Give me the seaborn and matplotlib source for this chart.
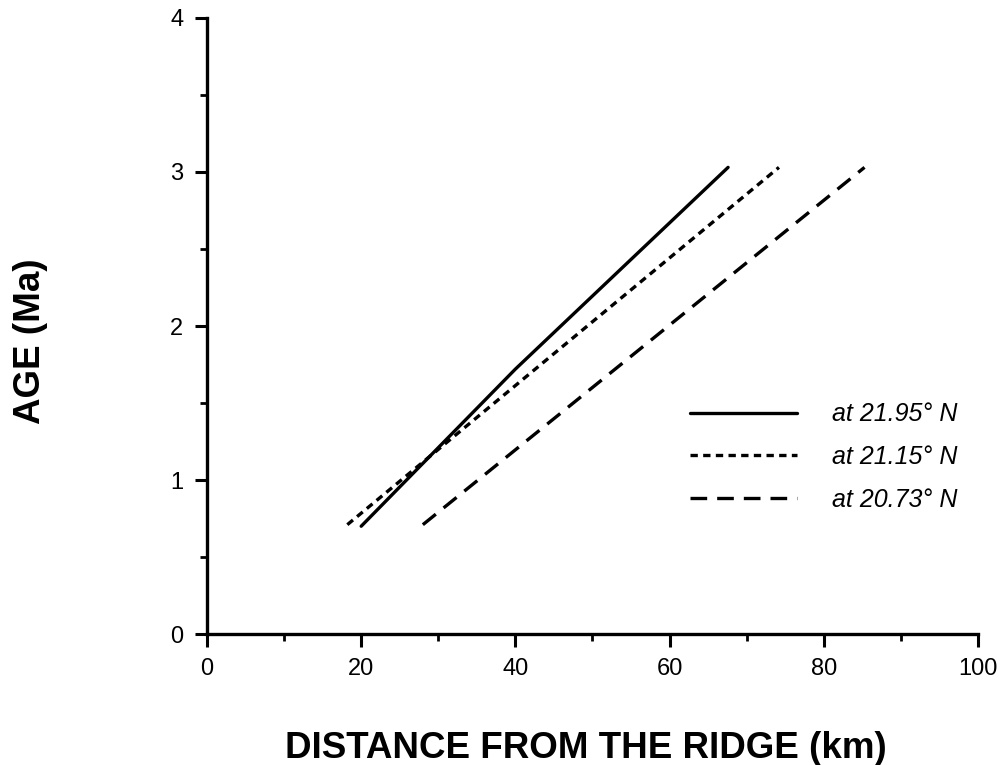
import matplotlib
matplotlib.use("Agg")
import matplotlib.pyplot as plt
import seaborn as sns
import numpy as np
from matplotlib.ticker import MultipleLocator

# Data
solid_x = [20.0, 40.0, 67.6]
solid_y = [0.70, 1.72, 3.03]
dotted_x = [18.2, 74.2]
dotted_y = [0.71, 3.03]
dashed_x = [28.0, 85.3]
dashed_y = [0.71, 3.03]
labels = ["at 21.95° N", "at 21.15° N", "at 20.73° N"]
xticks = [0, 20, 40, 60, 80, 100]
yticks = [0, 1, 2, 3, 4]

sns.set_theme(style="ticks")
plt.rcParams['font.family'] = ['Liberation Sans', 'DejaVu Sans']
plt.rcParams.update({"text.color": "black", "axes.labelcolor": "black",
                     "xtick.color": "black", "ytick.color": "black",
                     "xtick.labelcolor": "black", "ytick.labelcolor": "black"})

fig = plt.figure(figsize=(10.06, 7.65), dpi=100)
ax = fig.add_axes([0.2058, 0.1712, 0.972 - 0.2058, 0.9765 - 0.1712])

lw = 2.4
sns.lineplot(x=solid_x, y=solid_y, ax=ax, color="black", linewidth=lw,
             linestyle="-", label=labels[0], sort=False)
sns.lineplot(x=dotted_x, y=dotted_y, ax=ax, color="black", linewidth=lw,
             linestyle=(0, (2.2, 1.6)), label=labels[1], sort=False)
sns.lineplot(x=dashed_x, y=dashed_y, ax=ax, color="black", linewidth=lw,
             linestyle=(0, (5, 3)), label=labels[2], sort=False)

ax.set_xlim(0, 100)
ax.set_ylim(0, 4)
ax.set_xticks(xticks)
ax.set_yticks(yticks)
ax.xaxis.set_minor_locator(MultipleLocator(10))
ax.yaxis.set_minor_locator(MultipleLocator(0.5))
ax.tick_params(axis="both", which="major", direction="out", length=9, width=2.2,
               color="black", labelcolor="black", labelsize=17, pad=8)
ax.tick_params(axis="both", which="minor", direction="out", length=5, width=2.0,
               color="black")
for lab in ax.get_xticklabels() + ax.get_yticklabels():
    lab.set_fontfamily(['Liberation Sans', 'DejaVu Sans'])
sns.despine(ax=ax)
for s in ["left", "bottom"]:
    ax.spines[s].set_linewidth(2.4)
    ax.spines[s].set_color("black")

ax.set_xlabel("DISTANCE FROM THE RIDGE (km)", fontsize=26.5, fontweight="bold",
              labelpad=37, x=0.492, color="black")
ax.set_ylabel("AGE (Ma)", fontsize=26.5, fontweight="bold", labelpad=88, y=0.475,
              color="black")

leg = ax.legend(loc="upper left", bbox_to_anchor=(0.626, 0.376), frameon=False,
                borderpad=0, borderaxespad=0,
                handlelength=4.3, handletextpad=1.4, labelspacing=0.75,
                prop={'style': 'italic', 'size': 18}, labelcolor="black")

fig.savefig("out.png", dpi=100, facecolor="white")
